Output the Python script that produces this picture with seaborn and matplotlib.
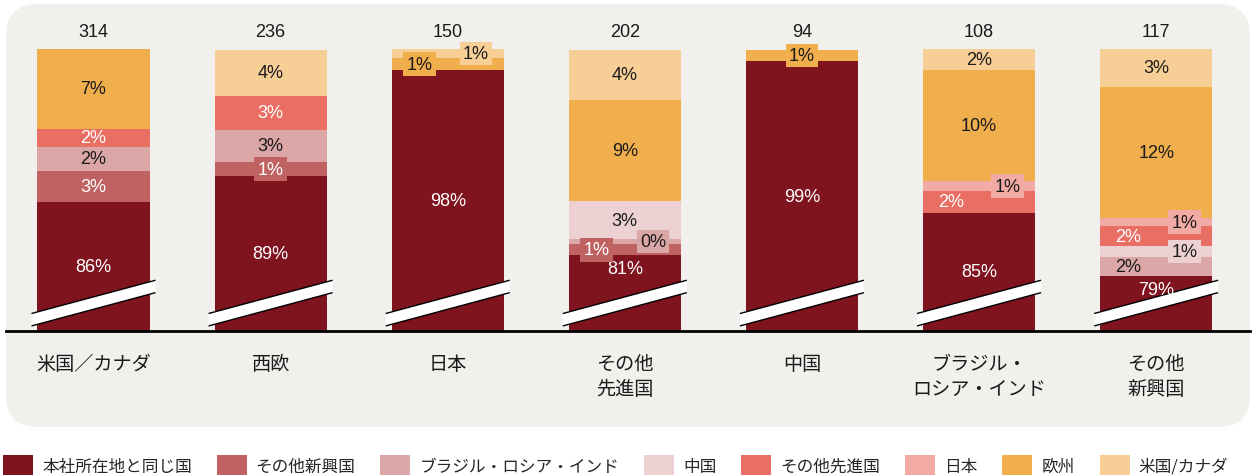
import numpy as np
import matplotlib.pyplot as plt
import seaborn as sns
from matplotlib.patches import Patch, FancyBboxPatch

# bar categories (x axis) and totals shown above bars
categories = ['米国／カナダ', '西欧', '日本', 'その他\n先進国', '中国', 'ブラジル・\nロシア・インド', 'その他\n新興国']
totals = [314, 236, 150, 202, 94, 108, 117]

# stack order bottom -> top (same as legend)
series = ['本社所在地と同じ国', 'その他新興国', 'ブラジル・ロシア・インド', '中国',
          'その他先進国', '日本', '欧州', '米国/カナダ']
colors = ['#7f131e', '#c06262', '#dba6a6', '#edd1d2', '#e96e63', '#f2aaa5', '#f0ae4d', '#f7cf96']

# shares (%)
home = [86.4, 88.7, 98.1, 81.7, 98.9, 85.5, 79.9]
other_emerging = [2.8, 1.3, 0, 1.0, 0, 0, 0]
bri = [2.15, 2.85, 0, 0.45, 0, 0, 1.7]
china = [0, 0, 0, 3.35, 0, 0, 0.9]
other_adv = [1.6, 3.0, 0, 0, 0, 1.9, 1.8]
japan = [0, 0, 0, 0, 0, 0.9, 0.7]
europe = [7.1, 0, 1.1, 8.95, 1.05, 9.85, 11.6]
us_can = [0, 4.1, 0.8, 4.5, 0, 1.85, 3.45]

# printed labels (None = no label)
home_pct = [86, 89, 98, 81, 99, 85, 79]
other_emerging_pct = [3, 1, None, 1, None, None, None]
bri_pct = [2, 3, None, 0, None, None, 2]
china_pct = [None, None, None, 3, None, None, 1]
other_adv_pct = [2, 3, None, None, None, 2, 2]
japan_pct = [None, None, None, None, None, 1, 1]
europe_pct = [7, None, 1, 9, 1, 10, 12]
us_can_pct = [None, 4, 1, 4, None, 2, 3]

values = [home, other_emerging, bri, china, other_adv, japan, europe, us_can]
labels = [home_pct, other_emerging_pct, bri_pct, china_pct, other_adv_pct,
          japan_pct, europe_pct, us_can_pct]
white_text = {0, 1, 4}

# small labels pushed sideways
nudge = {(2, 6): -0.16, (2, 7): 0.16, (3, 1): -0.16, (3, 2): 0.16,
         (5, 5): 0.16, (5, 4): -0.16, (6, 5): 0.16, (6, 4): -0.16,
         (6, 3): 0.16, (6, 2): -0.16}

sns.set_style('white')
num_font = 'Liberation Sans'
jp_font = ['Noto Sans CJK JP', 'DejaVu Sans']

fig = plt.figure(figsize=(12.56, 4.77), dpi=100)
fig.patch.set_facecolor('white')

# rounded grey panel
panel = FancyBboxPatch((0.06, 0.49), 12.44, 4.23, boxstyle='round,pad=0,rounding_size=0.32',
                       transform=fig.dpi_scale_trans, fc='#f1f0ed', ec='none', zorder=-5)
fig.patches.append(panel)

ax = fig.add_axes([6 / 1256, 145 / 477, 1244 / 1256, 282 / 477])
ax.set_facecolor('none')

vals = np.array(values)
cum = np.cumsum(vals, axis=0)
x = np.arange(len(categories))

# draw cumulative stacks from the top layer downwards
for k in range(len(series) - 1, -1, -1):
    sns.barplot(x=categories, y=cum[k], color=colors[k], saturation=1,
                width=0.633, linewidth=0, ax=ax)

ax.set_ylim(75, 100)
ax.set_xlim(-0.494, 6.53)
ax.set_xlabel('')
ax.set_ylabel('')
ax.set_yticks([])
for s in ['top', 'left', 'right']:
    ax.spines[s].set_visible(False)
ax.spines['bottom'].set_color('black')
ax.spines['bottom'].set_linewidth(2)
ax.spines['bottom'].set_zorder(7)
ax.set_xticks(x)
ax.set_xticklabels(categories, family=jp_font, fontsize=13.8, color='#1a1a1a',
                   linespacing=1.25, va='top')
ax.tick_params(axis='x', length=0, pad=16)

# segment labels
for i in range(len(categories)):
    for k in range(len(series)):
        lab = labels[k][i]
        if lab is None:
            continue
        hi = cum[k][i]
        lo = hi - vals[k][i]
        if k == 0:
            yc = (75 + hi) / 2 if hi - 75 > 8 else hi - 1.2
        else:
            yc = (lo + hi) / 2
        xc = i + nudge.get((i, k), 0)
        col = 'white' if k in white_text else '#1a1a1a'
        bbox = None
        if k > 0 and vals[k][i] < 1.4:
            bbox = dict(boxstyle='square,pad=0.18', fc=colors[k], ec='none')
        ax.text(xc, yc, f'{lab}%', ha='center', va='center', color=col,
                fontsize=13, family=num_font, bbox=bbox, zorder=6)

# totals above bars
for i, t in enumerate(totals):
    ax.annotate(str(t), (i, 100), xytext=(0, 12.5), textcoords='offset points',
                ha='center', va='center', fontsize=13, family=num_font,
                color='#1a1a1a', annotation_clip=False)

# axis-break strips
for i in range(len(categories)):
    xl, xr = i - 0.35, i + 0.35
    yl, yr, th = 75.45, 78.4, 1.1
    ax.fill([xl, xr, xr, xl], [yl, yr, yr + th, yl + th], color='white', lw=0, zorder=4)
    ax.plot([xl, xr], [yl, yr], color='black', lw=1.0, zorder=5, solid_capstyle='butt')
    ax.plot([xl, xr], [yl + th, yr + th], color='black', lw=1.0, zorder=5, solid_capstyle='butt')

# legend
handles = [Patch(fc=c, ec='none') for c in colors]
fig.legend(handles, series, loc='center left', bbox_to_anchor=(3 / 1256, 11 / 477),
           ncol=8, frameon=False, prop={'family': jp_font, 'size': 12},
           handlelength=1.8, handleheight=1.38, handletextpad=0.54,
           columnspacing=1.5, borderpad=0, borderaxespad=0)

fig.savefig('out.png', dpi=100)
